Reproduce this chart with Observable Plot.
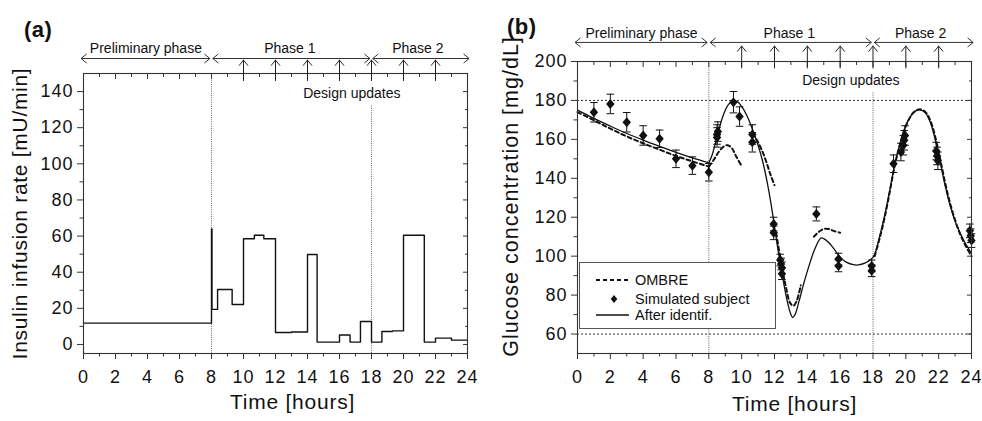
<!DOCTYPE html>
<html><head><meta charset="utf-8">
<script src="https://cdn.jsdelivr.net/npm/d3@7"></script>
<script src="https://cdn.jsdelivr.net/npm/@observablehq/plot@0.6"></script>
<style>
body{margin:0;background:#fff;}
#fig{position:relative;width:982px;height:421px;background:#fff;font-family:"Liberation Sans",Arial,Helvetica,sans-serif;color:#111;overflow:hidden}
#fig svg.plot{position:absolute;top:0;}
#fig svg.plot g[aria-label="x-axis tick label"] text,
#fig svg.plot g[aria-label="y-axis tick label"] text{letter-spacing:1px;}
.panel{position:absolute;font-weight:bold;font-size:22px;letter-spacing:0.5px;}
#legend{position:absolute;left:579px;top:262px;width:195px;height:65px;border:1px solid #555;background:#fff;font-size:14.5px;}
#legend .row{position:absolute;left:0;height:14px;display:flex;align-items:center;line-height:14px;}
#legend svg{width:52px;height:14px;}
</style></head><body><div id="fig"></div>
<script>
// ---------- data ----------
const evenHours = [0,2,4,6,8,10,12,14,16,18,20,22,24];
const oddHours = [1,3,5,7,9,11,13,15,17,19,21,23];
const insulinMajor = [0,20,40,60,80,100,120,140];
const insulinMinor = [10,30,50,70,90,110,130];
const glucoseMajor = [60,80,100,120,140,160,180,200];
const glucoseMinor = [70,90,110,130,150,170,190];
const glucoseLimits = [60,180];

const phaseNames = ["Preliminary phase","Phase 1","Phase 2"];
const phaseStart = [0,8,18];
const phaseEnd = [8,18,24];
const updateTimes = [10,12,14,16,18,20,22];

// (a) insulin infusion rate, step function
const insulinT    = [0, 8, 8.03, 8.38, 9.29, 10, 10.68, 11.27, 12, 13, 14, 14.6, 16, 16.66, 17.31, 18, 18.65, 19.3, 20, 21.3, 22, 23, 24];
const insulinRate = [11.8, 64, 19.4, 30.4, 22.1, 58.5, 60.5, 58.5, 6.6, 6.9, 49.8, 1.3, 5.2, 1.3, 12.7, 1.3, 7.2, 7.5, 60.5, 1.3, 3.5, 2.4, 2.4];

// (b) After identif. (solid)
const afterPreT = [0,1,2,3,4,5,6,7,8];
const afterPreG = [175,170.8,166.8,163,159.6,156.4,153.3,150.5,148];
const afterT = [8,8.2,8.4,8.6,8.8,9.0,9.2,9.45,9.7,10.0,10.3,10.6,11.0,11.3,11.6,11.9,12.2,12.5,12.8,13.0,13.1,13.25,13.5,13.8,14.1,14.4,14.7,14.85,15.0,15.3,15.6,16.0,16.4,16.8,17.1,17.5,17.9,18.1,18.4,18.7,19.0,19.3,19.6,19.9,20.2,20.5,20.85,21.2,21.5,21.8,22.1,22.4,22.7,23.0,23.3,23.6,24.0];
const afterG = [148,152,158,164.5,170.5,175,178,179.8,179.5,177,172.5,166.5,157,148,136,121,104,89,76,70,68.5,70,77,86.5,95,102.5,108,109.4,109,107,104,99.5,96.8,95.6,95.5,96.4,98.5,101,110,120.5,133,146,156.5,165,170.5,174,175.2,173.5,168.5,159.5,148,136,126,118,112,107,101.5];

// (b) OMBRE prediction (dashed), piecewise segments
const ombreSeg = [0,0,0,0,0,0,0,0,0, 1,1,1,1,1,1,1,1, 2,2,2,2,2,2, 3,3,3,3,3,3,3, 4,4,4,4,4,4, 5,5,5,5,5,5,5,5,5,5,5,5,5,5,5,5,5,5,5,5];
const ombreT = [0,1,2,3,4,5,6,7,8, 8,8.3,8.6,8.9,9.15,9.4,9.65,9.95, 10.65,10.9,11.2,11.5,11.75,12.0, 12.1,12.4,12.7,12.95,13.15,13.35,13.6, 14.4,14.7,15.0,15.3,15.6,16.0, 18.1,18.4,18.7,19.0,19.3,19.6,19.9,20.2,20.5,20.85,21.2,21.5,21.8,22.1,22.4,22.7,23.0,23.3,23.6,24.0];
const ombreG = [174,169.8,165.5,161.5,158,154.7,151.5,148.7,146, 146,149.5,153.5,156.3,157,155.5,151.5,147, 163,160,155,148.5,142,136.5, 112,97,84,76,74.5,77,85, 110,112.5,114,114,113,112, 100,109,119.5,132,145.5,156,164.5,170.5,174,175.5,174,169.5,161,149.5,137.5,127,118.5,111.5,106,100];

// (b) Simulated subject measurements with error bars
const subjT = [1.0,2.0,3.0,4.0,5.0,6.0,7.0,8.0,8.5,8.5,8.55,9.5,9.87,10.65,10.65,11.95,11.95,12.35,12.4,12.45,12.45,14.55,15.9,15.9,17.92,17.92,19.25,19.7,19.85,19.9,19.95,21.85,21.9,21.95,23.9,23.95,24.0];
const subjG = [173.9,178.2,168.8,162,160.3,150,146.5,143.1,161,162.5,164,179.1,171.7,162.5,158.5,116.5,112,98,96,94,91,121.7,98.5,95,95,92.5,147.5,153.5,157,159.5,162,154,151.5,149,113,110.5,108];
const subjErr = [5,5,5,5,4.5,4.5,4.5,4.5,5,5,5,5.5,5,5,5,3.5,3.5,3,3,3,3,3.6,3,3,3,3,4.5,4.5,5,5,5,4.5,4.5,4.5,3.5,3.5,3.5];

const titles = {
  aY: "Insulin infusion rate [mU/min]",
  bY: "Glucose concentration [mg/dL]",
  x: "Time [hours]",
  updates: "Design updates"
};
const legendLabels = ["OMBRE","Simulated subject","After identif."];

// ---------- build tables ----------
const insulin = insulinT.map((t,i)=>({t, rate: insulinRate[i]}));
const afterPre = afterPreT.map((t,i)=>({t, g: afterPreG[i]}));
const after = afterT.map((t,i)=>({t, g: afterG[i]}));
const ombre = ombreT.map((t,i)=>({t, g: ombreG[i], seg: ombreSeg[i]}));
const subj = subjT.map((t,i)=>({t, g: subjG[i], e: subjErr[i]}));
const phases = phaseNames.map((name,i)=>({name, start: phaseStart[i], end: phaseEnd[i]}));

// custom symbols
const chevron = {draw(ctx){ctx.moveTo(5.5,-4.5);ctx.lineTo(0,0);ctx.lineTo(5.5,4.5);}};
const capSym = {draw(ctx){ctx.moveTo(-3.8,0);ctx.lineTo(3.8,0);}};
const diamondSym = {draw(ctx){ctx.moveTo(0,-5);ctx.lineTo(4.2,0);ctx.lineTo(0,5);ctx.lineTo(-4.2,0);ctx.closePath();}};

const baseStyle = {fontFamily: '"Liberation Sans", Arial, Helvetica, sans-serif', fontSize: "18px", color: "#111", background: "transparent", overflow: "visible"};
const noText = () => "";

function frameAxes(major, minor) {
  return [
    Plot.frame({stroke: "#333", strokeWidth: 1.1}),
    Plot.axisX(evenHours, {tickSize: 6, tickPadding: 11, fontSize: 18, stroke: "#333"}),
    Plot.axisX(oddHours, {tickSize: 3.5, tickFormat: noText, stroke: "#333"}),
    Plot.axisX(evenHours, {anchor: "top", tickSize: -5, tickFormat: noText, stroke: "#333"}),
    Plot.axisX(oddHours, {anchor: "top", tickSize: -3, tickFormat: noText, stroke: "#333"}),
    Plot.axisY(major, {tickSize: 6, tickPadding: 4, fontSize: 18, stroke: "#333"}),
    Plot.axisY(minor, {tickSize: 3.5, tickFormat: noText, stroke: "#333"}),
    Plot.axisY(major, {anchor: "right", tickSize: -5, tickFormat: noText, stroke: "#333"}),
    Plot.axisY(minor, {anchor: "right", tickSize: -3, tickFormat: noText, stroke: "#333"})
  ];
}

function phaseMarks(yArrow, yText, yTail, yHead) {
  const x1 = d => d.start === 0 ? d.start - 0.15 : d.start + 0.08;
  const x2 = d => d.end === 24 ? d.end + 0.1 : d.end - 0.1;
  return [
    Plot.link(phases, {x1, x2, y1: yArrow, y2: yArrow, stroke: "#333", strokeWidth: 1}),
    Plot.dot(phases, {x: x1, y: yArrow, symbol: chevron, stroke: "#333", fill: "none", strokeWidth: 1}),
    Plot.dot(phases, {x: x2, y: yArrow, symbol: chevron, rotate: 180, stroke: "#333", fill: "none", strokeWidth: 1}),
    Plot.text(phases, {x: d => (d.start + d.end) / 2 - 0.1, y: yText, text: "name", fontSize: 14}),
    Plot.ruleX(updateTimes, {y1: yTail, y2: yHead, stroke: "#222", strokeWidth: 1}),
    Plot.dot(updateTimes, {x: d => d, y: yHead, symbol: chevron, rotate: 90, stroke: "#222", fill: "none", strokeWidth: 1})
  ];
}

// ---------- panel (a) ----------
const plotA = Plot.plot({
  width: 490, height: 421,
  marginLeft: 83, marginRight: 23, marginTop: 73, marginBottom: 68,
  x: {domain: [0, 24], label: null},
  y: {domain: [-5, 150], label: null},
  style: baseStyle,
  marks: [
    Plot.ruleX([phaseStart[1]], {stroke: "#666", strokeDasharray: "1,1.2"}),
    Plot.ruleX([phaseStart[2]], {y1: -5, y2: 132, stroke: "#666", strokeDasharray: "1,1.2"}),
    Plot.line(insulin, {x: "t", y: "rate", curve: "step-after", stroke: "#111", strokeWidth: 1.4}),
    ...frameAxes(insulinMajor, insulinMinor),
    Plot.text([titles.updates], {x: 16.77, y: 139, text: d => d, fontSize: 14}),
    ...phaseMarks(158.3, 163.8, 145.6, 157.4),
    Plot.text([titles.x], {frameAnchor: "bottom", text: d => d, textAnchor: "middle", dx: 17, dy: 55, fontSize: 21}),
    Plot.text([titles.aY], {frameAnchor: "left", text: d => d, textAnchor: "middle", rotate: -90, dx: -63, dy: 0, fontSize: 21})
  ]
});
plotA.classList.add("plot");
plotA.style.left = "0px";

// ---------- panel (b) ----------
const plotB = Plot.plot({
  width: 492, height: 421,
  marginLeft: 87, marginRight: 11, marginTop: 61, marginBottom: 68,
  x: {domain: [0, 24], label: null},
  y: {domain: [50, 200], label: null},
  style: baseStyle,
  marks: [
    Plot.ruleY(glucoseLimits, {stroke: "#333", strokeDasharray: "2,2"}),
    Plot.ruleX([phaseStart[1]], {stroke: "#666", strokeDasharray: "1,1.2"}),
    Plot.ruleX([phaseStart[2]], {y1: 50, y2: 184, stroke: "#666", strokeDasharray: "1,1.2"}),
    Plot.line(ombre, {x: "t", y: "g", z: "seg", curve: "catmull-rom", stroke: "#111", strokeWidth: 2, strokeDasharray: "4,3"}),
    Plot.line(afterPre, {x: "t", y: "g", curve: "catmull-rom", stroke: "#111", strokeWidth: 1.3}),
    Plot.line(after, {x: "t", y: "g", curve: "catmull-rom", stroke: "#111", strokeWidth: 1.3}),
    Plot.ruleX(subj, {x: "t", y1: d => d.g - d.e, y2: d => d.g + d.e, stroke: "#111", strokeWidth: 1}),
    Plot.dot(subj, {x: "t", y: d => d.g + d.e, symbol: capSym, stroke: "#111", strokeWidth: 1}),
    Plot.dot(subj, {x: "t", y: d => d.g - d.e, symbol: capSym, stroke: "#111", strokeWidth: 1}),
    Plot.dot(subj, {x: "t", y: "g", symbol: diamondSym, fill: "#111", stroke: "none"}),
    ...frameAxes(glucoseMajor, glucoseMinor),
    Plot.text([titles.updates], {x: 16.65, y: 190.2, text: d => d, fontSize: 14}),
    ...phaseMarks(209.8, 214.2, 196.2, 207.9),
    Plot.text([titles.x], {frameAnchor: "bottom", text: d => d, textAnchor: "middle", dx: 20, dy: 57, fontSize: 21}),
    Plot.text([titles.bY], {frameAnchor: "left", text: d => d, textAnchor: "middle", rotate: -90, dx: -66, dy: -11, fontSize: 21.5})
  ]
});
plotB.classList.add("plot");
plotB.style.left = "490px";

// widen the axis titles a little, as in the reference figure
const titleSpacing = new Map([[titles.x, "0.75px"], [titles.aY, "0.7px"], [titles.bY, "1px"]]);
for (const svg of [plotA, plotB]) {
  for (const t of svg.querySelectorAll("text")) {
    if (titleSpacing.has(t.textContent)) t.style.letterSpacing = titleSpacing.get(t.textContent);
  }
}

const fig = document.getElementById("fig");
fig.appendChild(plotA);
fig.appendChild(plotB);

// panel labels
for (const [txt, left, top] of [["(a)", 24, 17], ["(b)", 507, 14]]) {
  const d = document.createElement("div");
  d.className = "panel"; d.textContent = txt;
  d.style.left = left + "px"; d.style.top = top + "px";
  fig.appendChild(d);
}

// legend
const legend = document.createElement("div");
legend.id = "legend";
const rowTops = [10, 28.5, 44.5];
const samples = [
  '<line x1="16" x2="49" y1="7" y2="7" stroke="#111" stroke-width="2" stroke-dasharray="4,3"/>',
  '<path d="M34,3 L37.3,7 L34,11 L30.7,7Z" fill="#111"/>',
  '<line x1="16" x2="49" y1="7" y2="7" stroke="#111" stroke-width="1.3"/>'
];
legendLabels.forEach((lab, i) => {
  const r = document.createElement("div");
  r.className = "row"; r.style.top = rowTops[i] + "px";
  r.innerHTML = `<svg viewBox="0 0 52 14">${samples[i]}</svg><span style="margin-left:3px">${lab}</span>`;
  legend.appendChild(r);
});
fig.appendChild(legend);
</script></body></html>
